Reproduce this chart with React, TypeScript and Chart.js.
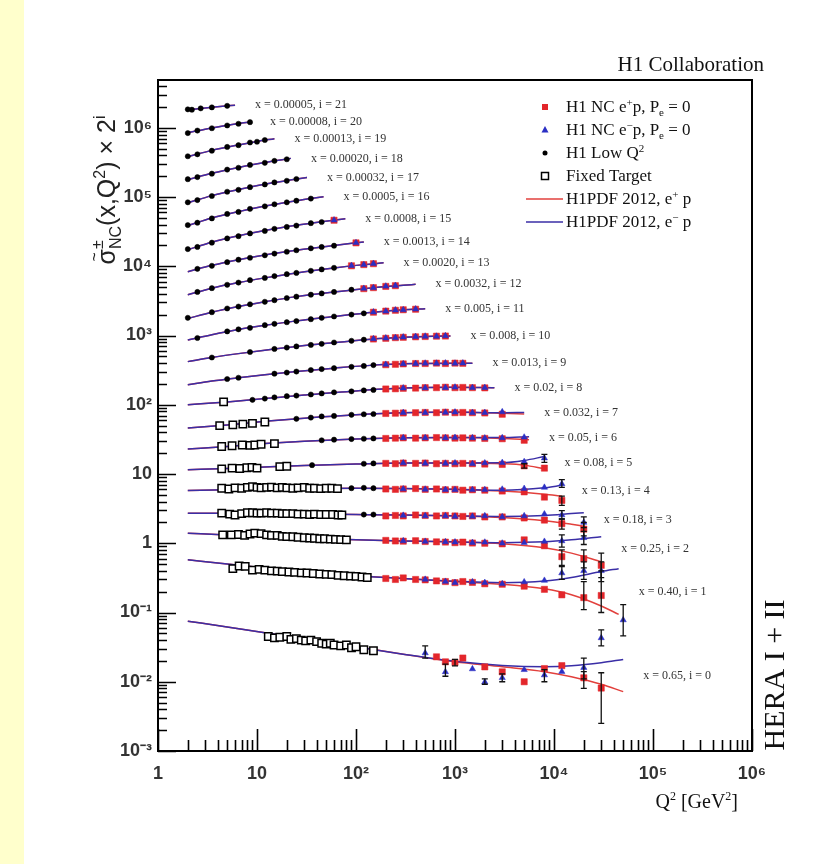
import React, { useEffect, useRef } from 'react';
import { Chart, registerables } from 'chart.js';
Chart.register(...registerables);

const W = 833;
const H = 864;
const Y_MAX = 4.9e6;

// bin index i = 0..21 (plotted value = sigma * 2^i)
const binX = ['0.65', '0.40', '0.25', '0.18', '0.13', '0.08', '0.05', '0.032', '0.02', '0.013', '0.008', '0.005', '0.0032', '0.0020', '0.0013', '0.0008', '0.0005', '0.00032', '0.00020', '0.00013', '0.00008', '0.00005'];

const xMajorTicks = [1, 10, 100, 1e3, 1e4, 1e5, 1e6];
const xTickText = ['1', '10', '10²', '10³', '10⁴', '10⁵', '10⁶'];
const yMajorTicks = [1e-3, 1e-2, 1e-1, 1, 10, 100, 1e3, 1e4, 1e5, 1e6];
const yTickText = ['10⁻³', '10⁻²', '10⁻¹', '1', '10', '10²', '10³', '10⁴', '10⁵', '10⁶'];

// H1PDF 2012 curves: Q2 nodes, sigma for e+p and e-p (null = same as e+p)
const modelQ2: number[][] = [
  [2, 5, 12, 30, 100, 300, 1000, 3000, 8000, 15000, 30000, 50000],
  [2, 5, 12, 30, 100, 300, 1000, 3000, 8000, 15000, 30000, 45000],
  [2, 5, 12, 30, 100, 300, 1000, 3000, 8000, 15000, 30000],
  [2, 5, 12, 30, 100, 300, 1000, 3000, 8000, 15000, 20000],
  [2, 5, 12, 30, 100, 300, 1000, 3000, 8000, 12000],
  [2, 5, 12, 30, 100, 300, 1000, 3000, 5000, 8000],
  [2, 5, 12, 30, 100, 300, 1000, 3000, 5600],
  [2, 5, 12, 30, 100, 300, 1000, 3000, 5000],
  [2, 5, 12, 30, 100, 300, 1000, 2500],
  [2, 3.5, 6.5, 12, 25, 60, 150, 400, 1000, 1500],
  [2, 3.5, 6.5, 12, 25, 60, 150, 300, 600, 900],
  [2, 3.5, 6.5, 12, 25, 60, 150, 300, 500],
  [2, 3.5, 6.5, 12, 25, 60, 150, 300, 400],
  [2, 3.5, 6.5, 12, 25, 60, 120, 190],
  [2, 3.5, 6.5, 12, 25, 60, 120],
  [2, 3.5, 6.5, 12, 25, 45, 78],
  [2, 3.5, 6.5, 12, 25, 47],
  [2, 3.5, 6.5, 12, 20, 32],
  [2, 3.5, 6.5, 12, 22],
  [2, 3.5, 6.5, 10, 15],
  [2, 3.5, 6.5, 8.5],
  [2, 3, 4.5, 6],
];
const modelEp: number[][] = [
  [0.075, 0.062, 0.051, 0.042, 0.032, 0.025, 0.0195, 0.0165, 0.014, 0.0118, 0.0092, 0.0072],
  [0.29, 0.25, 0.22, 0.195, 0.17, 0.155, 0.14, 0.128, 0.11, 0.09, 0.062, 0.047],
  [0.35, 0.33, 0.31, 0.295, 0.28, 0.27, 0.26, 0.245, 0.215, 0.18, 0.135],
  [0.34, 0.34, 0.335, 0.33, 0.325, 0.32, 0.31, 0.295, 0.265, 0.235, 0.22],
  [0.36, 0.37, 0.38, 0.385, 0.39, 0.385, 0.375, 0.355, 0.32, 0.3],
  [0.36, 0.375, 0.395, 0.415, 0.435, 0.45, 0.45, 0.44, 0.42, 0.37],
  [0.36, 0.39, 0.43, 0.465, 0.5, 0.52, 0.525, 0.51, 0.49],
  [0.36, 0.4, 0.45, 0.5, 0.56, 0.6, 0.61, 0.59, 0.575],
  [0.39, 0.43, 0.48, 0.54, 0.62, 0.68, 0.7, 0.69],
  [0.38, 0.43, 0.48, 0.53, 0.59, 0.66, 0.73, 0.77, 0.78, 0.78],
  [0.41, 0.47, 0.535, 0.6, 0.68, 0.77, 0.87, 0.92, 0.955, 0.965],
  [0.42, 0.5, 0.595, 0.685, 0.795, 0.92, 1.06, 1.15, 1.19],
  [0.43, 0.53, 0.64, 0.75, 0.89, 1.04, 1.2, 1.3, 1.34],
  [0.475, 0.59, 0.71, 0.83, 0.98, 1.155, 1.29, 1.37],
  [0.51, 0.63, 0.76, 0.89, 1.04, 1.22, 1.37],
  [0.53, 0.68, 0.84, 1.0, 1.19, 1.34, 1.48],
  [0.59, 0.76, 0.94, 1.13, 1.35, 1.54],
  [0.63, 0.8, 0.98, 1.17, 1.32, 1.46],
  [0.68, 0.84, 1.02, 1.2, 1.38],
  [0.73, 0.9, 1.08, 1.21, 1.33],
  [0.81, 0.95, 1.1, 1.16],
  [0.87, 0.92, 0.975, 1.01],
];
const modelEm: (number[] | null)[] = [
  [0.075, 0.062, 0.051, 0.042, 0.032, 0.025, 0.0197, 0.0172, 0.0165, 0.017, 0.0188, 0.021],
  [0.29, 0.25, 0.22, 0.195, 0.17, 0.155, 0.141, 0.135, 0.142, 0.16, 0.195, 0.215],
  [0.35, 0.33, 0.31, 0.295, 0.28, 0.27, 0.262, 0.255, 0.262, 0.28, 0.31],
  [0.34, 0.34, 0.335, 0.33, 0.325, 0.32, 0.312, 0.305, 0.315, 0.335, 0.345],
  [0.36, 0.37, 0.38, 0.385, 0.39, 0.385, 0.377, 0.365, 0.395, 0.43],
  [0.36, 0.375, 0.395, 0.415, 0.435, 0.45, 0.452, 0.455, 0.49, 0.56],
  [0.36, 0.39, 0.43, 0.465, 0.5, 0.52, 0.527, 0.525, 0.54],
  [0.36, 0.4, 0.45, 0.5, 0.56, 0.6, 0.612, 0.6, 0.605],
  null, null, null, null, null, null, null, null, null, null, null, null, null, null,
];

// H1 Low Q2: [Q2, sigma]
const lowQ2Pts: number[][][] = [
  [], [], [],
  [[120, 0.325], [150, 0.325]],
  [[90, 0.39], [120, 0.395], [150, 0.39]],
  [[36, 0.42], [120, 0.44], [150, 0.445]],
  [[45, 0.48], [60, 0.49], [90, 0.5], [120, 0.505], [150, 0.51]],
  [[25, 0.49], [35, 0.51], [45, 0.53], [60, 0.54], [90, 0.56], [120, 0.57], [150, 0.575]],
  [[9, 0.46], [12, 0.48], [15, 0.5], [20, 0.52], [25, 0.53], [35, 0.55], [45, 0.57], [60, 0.59], [90, 0.61], [120, 0.63], [150, 0.64]],
  [[5, 0.46], [6.5, 0.48], [15, 0.55], [20, 0.57], [25, 0.59], [35, 0.62], [45, 0.64], [60, 0.66], [90, 0.69], [120, 0.71], [150, 0.73]],
  [[3.5, 0.47], [8.5, 0.565], [15, 0.625], [20, 0.655], [25, 0.68], [35, 0.715], [45, 0.74], [60, 0.775], [90, 0.82], [120, 0.85]],
  [[2.5, 0.45], [5, 0.56], [6.5, 0.6], [8.5, 0.63], [12, 0.69], [15, 0.72], [20, 0.76], [25, 0.79], [35, 0.84], [45, 0.88], [60, 0.92], [90, 0.98], [120, 1.02]],
  [[2, 0.44], [3.5, 0.53], [5, 0.6], [6.5, 0.64], [8.5, 0.69], [12, 0.75], [15, 0.79], [20, 0.85], [25, 0.89], [35, 0.95], [45, 0.99], [60, 1.04], [90, 1.12]],
  [[2.5, 0.52], [3.5, 0.59], [5, 0.66], [6.5, 0.71], [8.5, 0.77], [12, 0.83], [15, 0.88], [20, 0.94], [25, 0.98], [35, 1.05], [45, 1.1], [60, 1.16]],
  [[2.5, 0.56], [3.5, 0.62], [5, 0.7], [6.5, 0.76], [8.5, 0.81], [12, 0.88], [15, 0.93], [20, 0.99], [25, 1.04], [35, 1.11], [45, 1.16], [60, 1.21]],
  [[2, 0.54], [2.5, 0.58], [3.5, 0.67], [5, 0.77], [6.5, 0.83], [8.5, 0.91], [12, 0.99], [15, 1.06], [20, 1.13], [25, 1.18], [35, 1.28], [45, 1.33]],
  [[2, 0.6], [2.5, 0.65], [3.5, 0.75], [5, 0.87], [6.5, 0.93], [8.5, 1.03], [12, 1.12], [15, 1.2], [20, 1.28], [25, 1.35], [35, 1.45]],
  [[2, 0.64], [2.5, 0.69], [3.5, 0.79], [5, 0.91], [6.5, 0.97], [8.5, 1.06], [12, 1.16], [15, 1.24], [20, 1.31], [25, 1.39]],
  [[2, 0.69], [2.5, 0.74], [3.5, 0.83], [5, 0.95], [6.5, 1.01], [8.5, 1.11], [12, 1.19], [15, 1.27], [20, 1.34]],
  [[2, 0.74], [2.5, 0.79], [3.5, 0.89], [5, 1.01], [6.5, 1.07], [8.5, 1.17], [10, 1.2], [12, 1.27]],
  [[2, 0.8], [2.5, 0.87], [3.5, 0.94], [5, 1.03], [6.5, 1.09], [8.5, 1.15]],
  [[2, 0.88], [2.2, 0.87], [2.7, 0.91], [3.5, 0.94], [5, 0.99]],
];

// Fixed target: [Q2, sigma]
const fixedTargetPts: number[][][] = [
  [[13, 0.045], [15, 0.043], [17, 0.044], [20, 0.045], [22, 0.041], [25, 0.042], [28, 0.04], [31, 0.039], [35, 0.04], [40, 0.038], [45, 0.036], [50, 0.035], [55, 0.036], [60, 0.034], [70, 0.033], [80, 0.034], [90, 0.031], [100, 0.032], [120, 0.029], [150, 0.028]],
  [[5.7, 0.215], [6.6, 0.235], [7.6, 0.232], [9, 0.205], [10.5, 0.21], [12, 0.205], [14, 0.2], [16, 0.198], [18, 0.195], [21, 0.192], [24, 0.19], [28, 0.187], [32, 0.186], [37, 0.183], [43, 0.18], [50, 0.178], [57, 0.176], [66, 0.172], [76, 0.17], [88, 0.168], [100, 0.166], [115, 0.163], [130, 0.16]],
  [[4.5, 0.33], [5.5, 0.33], [6.5, 0.335], [7.5, 0.325], [8.5, 0.34], [9.5, 0.35], [11, 0.345], [12.5, 0.33], [14, 0.325], [16, 0.325], [18, 0.315], [20, 0.312], [23, 0.31], [26, 0.305], [30, 0.3], [34, 0.298], [38, 0.295], [43, 0.29], [48, 0.29], [55, 0.287], [62, 0.285], [70, 0.282], [80, 0.28]],
  [[4.4, 0.34], [5.3, 0.33], [6, 0.32], [7, 0.335], [8, 0.345], [9, 0.345], [10, 0.34], [11, 0.34], [12.5, 0.345], [14, 0.34], [16, 0.34], [18, 0.335], [20, 0.335], [23, 0.335], [26, 0.33], [30, 0.33], [34, 0.325], [38, 0.33], [44, 0.325], [50, 0.325], [58, 0.325], [66, 0.32], [72, 0.32]],
  [[4.4, 0.39], [5.2, 0.38], [6, 0.395], [7, 0.39], [8, 0.4], [9, 0.41], [10, 0.4], [11, 0.395], [12.5, 0.4], [14, 0.405], [16, 0.395], [18, 0.4], [20, 0.395], [23, 0.39], [26, 0.395], [30, 0.4], [34, 0.39], [38, 0.39], [44, 0.385], [50, 0.39], [57, 0.39], [65, 0.385]],
  [[4.4, 0.37], [5.6, 0.38], [6.7, 0.375], [7.9, 0.385], [8.9, 0.39], [10, 0.38], [17, 0.4], [20, 0.405]],
  [[4.4, 0.39], [5.6, 0.4], [7.1, 0.41], [8.5, 0.405], [9.5, 0.41], [11, 0.42], [15, 0.43]],
  [[4.2, 0.39], [5.7, 0.4], [7.2, 0.41], [9, 0.42], [12, 0.44]],
  [[4.6, 0.43]],
  [], [], [], [], [], [], [], [], [], [], [], [], [],
];

// H1 NC e+p: [Q2, sigma, errLow?, errHigh?]
const epPts: number[][][] = [
  [[650, 0.0229], [800, 0.0194], [1000, 0.019, 0.017, 0.021], [1200, 0.022], [2000, 0.0164], [3000, 0.0139], [5000, 0.01], [8000, 0.0155], [12000, 0.0171], [20000, 0.0114, 0.008, 0.014], [30000, 0.0081, 0.0025, 0.0135]],
  [[200, 0.155], [250, 0.15], [300, 0.158], [400, 0.15], [500, 0.148], [650, 0.143], [800, 0.14], [1000, 0.135], [1200, 0.14], [1500, 0.136], [2000, 0.13], [3000, 0.128], [5000, 0.12], [8000, 0.108], [12000, 0.09], [20000, 0.082, 0.055, 0.14], [30000, 0.088, 0.05, 0.2]],
  [[200, 0.275], [250, 0.27], [300, 0.268], [400, 0.272], [500, 0.265], [650, 0.262], [800, 0.26], [1000, 0.255], [1200, 0.26], [1500, 0.252], [2000, 0.25], [3000, 0.245], [5000, 0.28], [8000, 0.23], [12000, 0.16, 0.12, 0.2], [20000, 0.15, 0.11, 0.2], [30000, 0.12, 0.08, 0.18]],
  [[200, 0.31], [250, 0.315], [300, 0.31], [400, 0.32], [500, 0.315], [650, 0.31], [800, 0.315], [1000, 0.31], [1200, 0.305], [1500, 0.31], [2000, 0.3], [3000, 0.3], [5000, 0.29], [8000, 0.27], [12000, 0.24, 0.2, 0.28], [20000, 0.2, 0.16, 0.25]],
  [[200, 0.38], [250, 0.375], [300, 0.38], [400, 0.385], [500, 0.375], [650, 0.38], [800, 0.37], [1000, 0.375], [1200, 0.365], [1500, 0.37], [2000, 0.365], [3000, 0.355], [5000, 0.345], [8000, 0.29], [12000, 0.26, 0.22, 0.3]],
  [[200, 0.445], [250, 0.44], [300, 0.45], [400, 0.445], [500, 0.45], [650, 0.44], [800, 0.445], [1000, 0.44], [1200, 0.445], [1500, 0.44], [2000, 0.435], [3000, 0.43], [5000, 0.41, 0.38, 0.44], [8000, 0.38]],
  [[200, 0.51], [250, 0.515], [300, 0.52], [400, 0.515], [500, 0.52], [650, 0.525], [800, 0.52], [1000, 0.515], [1200, 0.52], [1500, 0.515], [2000, 0.51], [3000, 0.505], [5000, 0.48]],
  [[200, 0.585], [250, 0.59], [300, 0.595], [400, 0.6], [500, 0.605], [650, 0.6], [800, 0.61], [1000, 0.6], [1200, 0.605], [1500, 0.6], [2000, 0.595], [3000, 0.57]],
  [[200, 0.66], [250, 0.665], [300, 0.675], [400, 0.68], [500, 0.69], [650, 0.69], [800, 0.7], [1000, 0.69], [1200, 0.695], [1500, 0.69], [2000, 0.685]],
  [[200, 0.74], [250, 0.75], [300, 0.76], [400, 0.77], [500, 0.77], [650, 0.78], [800, 0.77], [1000, 0.78], [1200, 0.775]],
  [[150, 0.87], [200, 0.89], [250, 0.91], [300, 0.92], [400, 0.935], [500, 0.945], [650, 0.955], [800, 0.96]],
  [[150, 1.06], [200, 1.1], [250, 1.13], [300, 1.15], [400, 1.17]],
  [[120, 1.16], [150, 1.2], [200, 1.25], [250, 1.28]],
  [[90, 1.24], [120, 1.29], [150, 1.33]],
  [[100, 1.33]],
  [[60, 1.41]],
  [], [], [], [], [], [],
];

// H1 NC e-p: [Q2, sigma, errLow?, errHigh?]
const emPts: number[][][] = [
  [[500, 0.026, 0.022, 0.033], [800, 0.0139, 0.012, 0.018], [1500, 0.0153], [2000, 0.0099, 0.0092, 0.011], [3000, 0.0114, 0.01, 0.013], [5000, 0.0149], [8000, 0.0125, 0.01, 0.015], [12000, 0.014], [20000, 0.016, 0.011, 0.022], [30000, 0.043, 0.033, 0.056]],
  [[500, 0.15], [800, 0.14], [1000, 0.135], [1500, 0.138], [2000, 0.135], [3000, 0.13], [5000, 0.138], [8000, 0.145], [12000, 0.186, 0.15, 0.23], [20000, 0.2, 0.15, 0.27], [30000, 0.2, 0.14, 0.27], [50000, 0.039, 0.023, 0.065]],
  [[300, 0.27], [500, 0.265], [800, 0.262], [1000, 0.26], [1500, 0.255], [2000, 0.258], [3000, 0.25], [5000, 0.255], [8000, 0.265], [12000, 0.27, 0.22, 0.33], [20000, 0.3, 0.24, 0.37]],
  [[300, 0.315], [500, 0.31], [800, 0.31], [1000, 0.305], [1500, 0.305], [2000, 0.31], [3000, 0.3], [5000, 0.31], [8000, 0.33], [12000, 0.32, 0.28, 0.37], [20000, 0.25, 0.21, 0.3]],
  [[300, 0.38], [500, 0.375], [800, 0.372], [1000, 0.37], [1500, 0.37], [2000, 0.37], [3000, 0.375], [5000, 0.385], [8000, 0.4], [12000, 0.45, 0.4, 0.52]],
  [[300, 0.45], [500, 0.445], [800, 0.445], [1000, 0.45], [1500, 0.44], [2000, 0.45], [3000, 0.455], [5000, 0.47], [8000, 0.53, 0.46, 0.6]],
  [[300, 0.52], [500, 0.52], [800, 0.52], [1000, 0.525], [1500, 0.52], [2000, 0.515], [3000, 0.52], [5000, 0.53]],
  [[300, 0.6], [500, 0.6], [800, 0.605], [1000, 0.61], [1500, 0.6], [2000, 0.6], [3000, 0.615]],
  [[300, 0.68], [500, 0.685], [800, 0.69], [1000, 0.7], [1500, 0.69], [2000, 0.69]],
  [[200, 0.745], [300, 0.76], [400, 0.765], [500, 0.775], [650, 0.775], [800, 0.78], [1000, 0.775], [1200, 0.78]],
  [[150, 0.875], [200, 0.895], [250, 0.905], [300, 0.925], [400, 0.94], [500, 0.95], [650, 0.95], [800, 0.965]],
  [[150, 1.065], [200, 1.095], [250, 1.135], [300, 1.145], [400, 1.175]],
  [[120, 1.165], [150, 1.195], [200, 1.255], [250, 1.285]],
  [[90, 1.245], [120, 1.285], [150, 1.335]],
  [[100, 1.335]],
  [[60, 1.415]],
  [], [], [], [], [], [],
];

const SERIF = "'Liberation Serif', 'Times New Roman', serif";
const SANS = "'Liberation Sans', Arial, sans-serif";
const RED = '#e3262b';
const BLUE = '#2b2fc4';
const CURVE_RED = '#e2403c';
const CURVE_BLUE = '#3a2ea6';

const scaleFactor = (i: number) => Math.pow(2, i);

function buildPoints(src: number[][][]) {
  const data: any[] = [];
  const errs: any[] = [];
  src.forEach((bin, i) => {
    const f = scaleFactor(i);
    bin.forEach((p) => {
      data.push({ x: p[0], y: p[1] * f });
      errs.push(p.length >= 4 ? [p[2] * f, p[3] * f] : null);
    });
  });
  return { data, errs };
}

function isMajor(v: number) {
  const l = Math.log10(v);
  return Math.abs(l - Math.round(l)) < 1e-6;
}
function majorLabel(v: number, majors: number[], texts: string[]) {
  for (let k = 0; k < majors.length; k++) {
    if (Math.abs(v - majors[k]) <= majors[k] * 1e-6) return texts[k];
  }
  return '';
}

type Part = [string, string];
function drawRich(ctx: CanvasRenderingContext2D, x: number, y: number, parts: Part[], size: number, family: string, align: string) {
  const small = Math.round(size * 0.62);
  const widths = parts.map(([t, k]) => {
    ctx.font = `${k === 'n' ? size : small}px ${family}`;
    return ctx.measureText(t).width;
  });
  const total = widths.reduce((a, b) => a + b, 0);
  let cx = align === 'right' ? x - total : align === 'center' ? x - total / 2 : x;
  ctx.textAlign = 'left';
  ctx.textBaseline = 'alphabetic';
  parts.forEach(([t, k], idx) => {
    ctx.font = `${k === 'n' ? size : small}px ${family}`;
    const dy = k === 'sup' ? -size * 0.38 : k === 'sub' ? size * 0.22 : 0;
    ctx.fillText(t, cx, y + dy);
    cx += widths[idx];
  });
}

const backgroundPlugin = {
  id: 'bg',
  beforeDraw(chart: any) {
    const ctx = chart.ctx;
    ctx.save();
    ctx.fillStyle = '#ffffff';
    ctx.fillRect(0, 0, W, H);
    ctx.fillStyle = '#ffffcc';
    ctx.fillRect(0, 0, 24, H);
    ctx.restore();
  },
};

const errorBarPlugin = {
  id: 'errbars',
  afterDatasetsDraw(chart: any) {
    const ctx = chart.ctx;
    const ys = chart.scales.y;
    ctx.save();
    ctx.strokeStyle = '#111';
    ctx.lineWidth = 1.3;
    chart.data.datasets.forEach((ds: any, di: number) => {
      if (!ds.errs) return;
      const meta = chart.getDatasetMeta(di);
      ds.errs.forEach((e: any, k: number) => {
        if (!e) return;
        const el = meta.data[k];
        if (!el) return;
        const x = el.x;
        const y1 = ys.getPixelForValue(e[0]);
        const y2 = ys.getPixelForValue(e[1]);
        ctx.beginPath();
        ctx.moveTo(x, y1); ctx.lineTo(x, y2);
        ctx.moveTo(x - 3, y1); ctx.lineTo(x + 3, y1);
        ctx.moveTo(x - 3, y2); ctx.lineTo(x + 3, y2);
        ctx.stroke();
      });
    });
    ctx.restore();
  },
};

const framePlugin = {
  id: 'frame',
  afterDraw(chart: any) {
    const ctx = chart.ctx;
    const a = chart.chartArea;
    const xs = chart.scales.x;
    const ys = chart.scales.y;
    ctx.save();
    ctx.strokeStyle = '#000';
    ctx.lineWidth = 1.6;
    ctx.beginPath();
    xs.ticks.forEach((t: any) => {
      const px = Math.round(xs.getPixelForValue(t.value)) + 0.5;
      const len = isMajor(t.value) ? 22 : 11;
      ctx.moveTo(px, a.bottom); ctx.lineTo(px, a.bottom - len);
    });
    ys.ticks.forEach((t: any) => {
      const py = Math.round(ys.getPixelForValue(t.value)) + 0.5;
      const len = isMajor(t.value) ? 18 : 9;
      ctx.moveTo(a.left, py); ctx.lineTo(a.left + len, py);
    });
    ctx.stroke();
    ctx.lineWidth = 2;
    ctx.strokeRect(a.left, a.top, a.right - a.left, a.bottom - a.top);
    ctx.restore();
  },
};

const textPlugin = {
  id: 'texts',
  afterDraw(chart: any) {
    const ctx = chart.ctx;
    const xs = chart.scales.x;
    const ys = chart.scales.y;
    ctx.save();
    ctx.fillStyle = '#111';

    // title
    ctx.font = `21px ${SERIF}`;
    ctx.textAlign = 'right';
    ctx.textBaseline = 'alphabetic';
    ctx.fillText('H1 Collaboration', 764, 71);

    // x title
    drawRich(ctx, 738, 808, [['Q', 'n'], ['2', 'sup'], [' [GeV', 'n'], ['2', 'sup'], [']', 'n']], 20, SERIF, 'right');

    // HERA I + II
    ctx.save();
    ctx.translate(776, 675);
    ctx.rotate(-Math.PI / 2);
    ctx.font = `30px ${SERIF}`;
    ctx.textAlign = 'center';
    ctx.textBaseline = 'middle';
    ctx.fillText('HERA I + II', 0, 0);
    ctx.restore();

    // y title
    ctx.save();
    ctx.translate(106, 190);
    ctx.rotate(-Math.PI / 2);
    ctx.fillStyle = '#222';
    const big = 25, sm = 16;
    ctx.font = `${big}px ${SANS}`;
    const wSig = ctx.measureText('σ').width;
    ctx.font = `${sm}px ${SANS}`;
    const wNC = ctx.measureText('NC').width;
    ctx.font = `${big}px ${SANS}`;
    const wA = ctx.measureText('(x,Q').width;
    ctx.font = `${sm}px ${SANS}`;
    const w2 = ctx.measureText('2').width;
    ctx.font = `${big}px ${SANS}`;
    const wB = ctx.measureText(') × 2').width;
    ctx.font = `${sm}px ${SANS}`;
    const wi = ctx.measureText('i').width;
    const total = wSig + wNC + wA + w2 + wB + wi;
    let cx = -total / 2;
    ctx.textAlign = 'left';
    ctx.textBaseline = 'alphabetic';
    const base = 9;
    ctx.font = `${big}px ${SANS}`;
    ctx.fillText('σ', cx, base);
    ctx.font = `${sm}px ${SANS}`;
    ctx.fillText('~', cx + wSig / 2 - ctx.measureText('~').width / 2, base - 15);
    ctx.fillText('±', cx + wSig, base - 12);
    ctx.fillText('NC', cx + wSig, base + 6);
    cx += wSig + wNC;
    ctx.font = `${big}px ${SANS}`;
    ctx.fillText('(x,Q', cx, base);
    cx += wA;
    ctx.font = `${sm}px ${SANS}`;
    ctx.fillText('2', cx, base - 10);
    cx += w2;
    ctx.font = `${big}px ${SANS}`;
    ctx.fillText(') × 2', cx, base);
    cx += wB;
    ctx.font = `${sm}px ${SANS}`;
    ctx.fillText('i', cx, base - 10);
    ctx.restore();

    // bin labels
    ctx.fillStyle = '#333';
    ctx.font = `12px ${SERIF}`;
    ctx.textAlign = 'left';
    ctx.textBaseline = 'middle';
    binX.forEach((xv, i) => {
      const q = modelQ2[i];
      const ep = modelEp[i];
      const em = modelEm[i] || ep;
      const endQ = q[q.length - 1];
      const endY = Math.sqrt(ep[ep.length - 1] * em[em.length - 1]) * scaleFactor(i);
      const px = xs.getPixelForValue(endQ) + 20;
      const py = ys.getPixelForValue(endY);
      ctx.fillText(`x = ${xv}, i = ${i}`, px, py);
    });

    // legend
    const lx = 545, tx = 566;
    const rows = [107, 130, 153, 176, 199, 222];
    ctx.fillStyle = RED;
    ctx.fillRect(lx - 3, rows[0] - 3, 6, 6);
    ctx.fillStyle = BLUE;
    ctx.beginPath();
    ctx.moveTo(lx, rows[1] - 4); ctx.lineTo(lx + 3.5, rows[1] + 2.5); ctx.lineTo(lx - 3.5, rows[1] + 2.5); ctx.closePath(); ctx.fill();
    ctx.fillStyle = '#000';
    ctx.beginPath(); ctx.arc(lx, rows[2], 2.5, 0, Math.PI * 2); ctx.fill();
    ctx.strokeStyle = '#000'; ctx.lineWidth = 1.5;
    ctx.strokeRect(lx - 3.5, rows[3] - 3.5, 7, 7);
    ctx.lineWidth = 1.5;
    ctx.strokeStyle = CURVE_RED;
    ctx.beginPath(); ctx.moveTo(526, rows[4]); ctx.lineTo(563, rows[4]); ctx.stroke();
    ctx.strokeStyle = CURVE_BLUE;
    ctx.beginPath(); ctx.moveTo(526, rows[5]); ctx.lineTo(563, rows[5]); ctx.stroke();
    ctx.fillStyle = '#111';
    const fs = 17;
    const off = 5;
    drawRich(ctx, tx, rows[0] + off, [['H1 NC e', 'n'], ['+', 'sup'], ['p, P', 'n'], ['e', 'sub'], [' = 0', 'n']], fs, SERIF, 'left');
    drawRich(ctx, tx, rows[1] + off, [['H1 NC e', 'n'], ['−', 'sup'], ['p, P', 'n'], ['e', 'sub'], [' = 0', 'n']], fs, SERIF, 'left');
    drawRich(ctx, tx, rows[2] + off, [['H1 Low Q', 'n'], ['2', 'sup']], fs, SERIF, 'left');
    drawRich(ctx, tx, rows[3] + off, [['Fixed Target', 'n']], fs, SERIF, 'left');
    drawRich(ctx, tx, rows[4] + off, [['H1PDF 2012, e', 'n'], ['+', 'sup'], [' p', 'n']], fs, SERIF, 'left');
    drawRich(ctx, tx, rows[5] + off, [['H1PDF 2012, e', 'n'], ['−', 'sup'], [' p', 'n']], fs, SERIF, 'left');
    ctx.restore();
  },
};

export default function App() {
  const ref = useRef<HTMLCanvasElement | null>(null);
  useEffect(() => {
    if (!ref.current) return;
    const datasets: any[] = [];
    const ft = buildPoints(fixedTargetPts);
    const lq = buildPoints(lowQ2Pts);
    const ep = buildPoints(epPts);
    const em = buildPoints(emPts);
    datasets.push({ label: 'H1 NC e-p', data: em.data, errs: em.errs, pointStyle: 'triangle', radius: 3.6, backgroundColor: BLUE, borderColor: BLUE, borderWidth: 0.5, order: 0 });
    datasets.push({ label: 'H1 NC e+p', data: ep.data, errs: ep.errs, pointStyle: 'rect', radius: 4.4, backgroundColor: RED, borderColor: RED, borderWidth: 0.5, order: 1 });
    datasets.push({ label: 'H1 Low Q2', data: lq.data, pointStyle: 'circle', radius: 2.6, backgroundColor: '#000', borderColor: '#000', borderWidth: 0.5, order: 2 });
    datasets.push({ label: 'Fixed Target', data: ft.data, pointStyle: 'rect', radius: 5.2, backgroundColor: '#fff', borderColor: '#000', borderWidth: 1.5, order: 3 });
    modelQ2.forEach((qs, i) => {
      const f = scaleFactor(i);
      const epv = modelEp[i];
      const emv = modelEm[i] || epv;
      datasets.push({ label: 'H1PDF e+p ' + i, data: qs.map((q, k) => ({ x: q, y: epv[k] * f })), showLine: true, pointRadius: 0, borderColor: CURVE_RED, borderWidth: 1.5, tension: 0.4, cubicInterpolationMode: 'monotone', order: 11 });
      datasets.push({ label: 'H1PDF e-p ' + i, data: qs.map((q, k) => ({ x: q, y: emv[k] * f })), showLine: true, pointRadius: 0, borderColor: CURVE_BLUE, borderWidth: 1.5, tension: 0.4, cubicInterpolationMode: 'monotone', order: 10 });
    });

    const chart = new Chart(ref.current, {
      type: 'scatter',
      data: { datasets },
      options: {
        animation: false,
        responsive: false,
        devicePixelRatio: 1,
        events: [],
        layout: { padding: { top: 80, right: 81, bottom: 73, left: 0 } },
        plugins: { legend: { display: false }, tooltip: { enabled: false }, title: { display: false } },
        scales: {
          x: {
            type: 'logarithmic',
            min: 1,
            max: 1e6,
            grid: { display: false, drawTicks: false },
            border: { display: false },
            afterBuildTicks: (scale: any) => {
              const t: any[] = [];
              for (let e = 0; e <= 5; e++) for (let m = 1; m <= 9; m++) t.push({ value: m * Math.pow(10, e) });
              t.push({ value: 1e6 });
              scale.ticks = t;
            },
            afterFit: (scale: any) => { scale.height = 40; },
            ticks: {
              autoSkip: false,
              maxRotation: 0,
              padding: 12,
              color: '#333',
              font: { family: SANS, size: 18, weight: 'bold' },
              callback: (v: any) => majorLabel(Number(v), xMajorTicks, xTickText),
            },
          },
          y: {
            type: 'logarithmic',
            min: 1e-3,
            max: Y_MAX,
            grid: { display: false, drawTicks: false },
            border: { display: false },
            afterBuildTicks: (scale: any) => {
              const t: any[] = [];
              for (let e = -3; e <= 6; e++) for (let m = 1; m <= 9; m++) {
                const v = m * Math.pow(10, e);
                if (v <= Y_MAX) t.push({ value: v });
              }
              scale.ticks = t;
            },
            afterFit: (scale: any) => { scale.width = 158; },
            ticks: {
              autoSkip: false,
              padding: 6,
              color: '#333',
              font: { family: SANS, size: 18, weight: 'bold' },
              callback: (v: any) => majorLabel(Number(v), yMajorTicks, yTickText),
            },
          },
        },
      } as any,
      plugins: [backgroundPlugin, errorBarPlugin, framePlugin, textPlugin],
    });
    return () => chart.destroy();
  }, []);
  return (
    <div style={{ position: 'absolute', left: 0, top: 0, width: W, height: H }}>
      <canvas ref={ref} width={W} height={H} style={{ width: W, height: H, display: 'block' }} />
    </div>
  );
}
